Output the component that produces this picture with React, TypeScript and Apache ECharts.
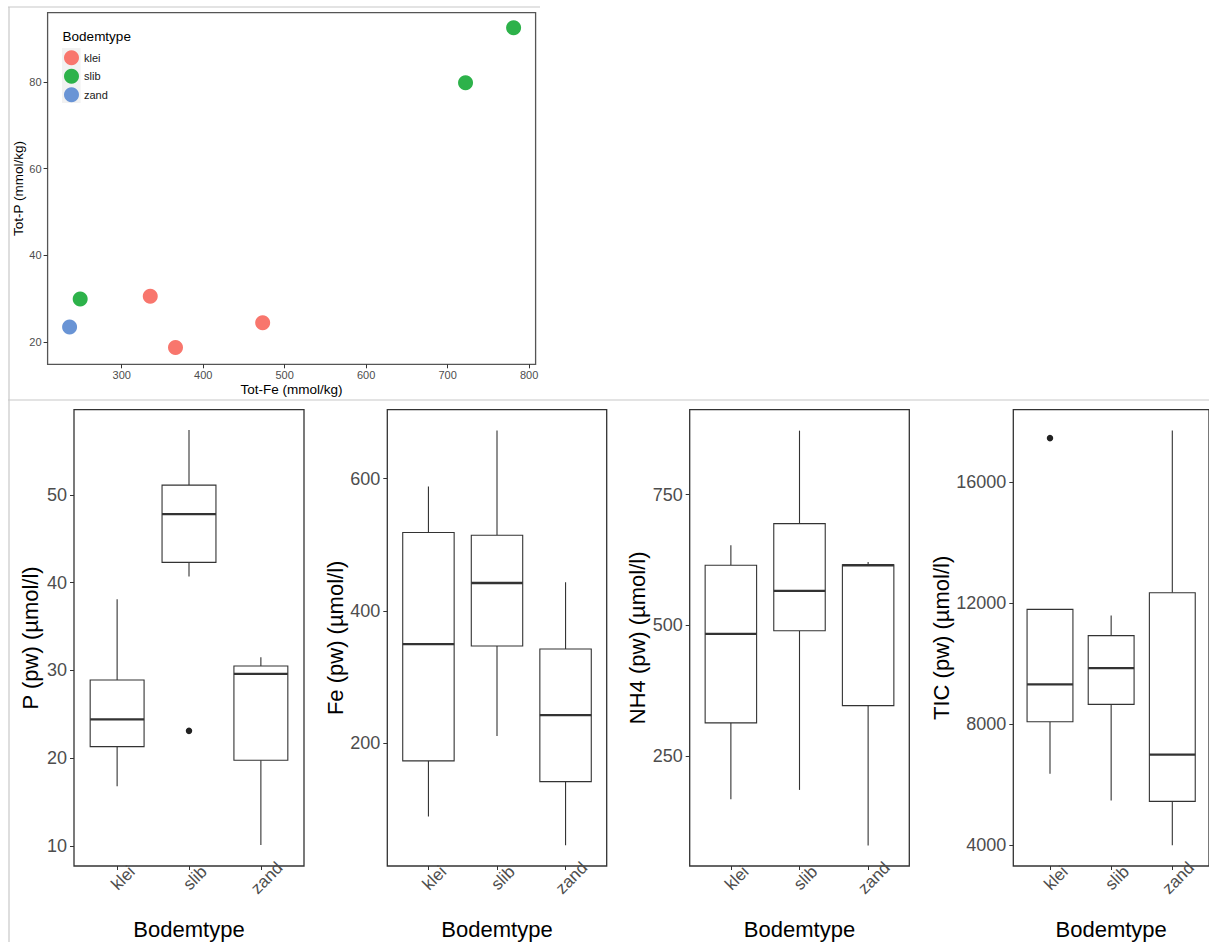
import React, { useEffect, useRef } from "react";
import * as echarts from "echarts";

// ---------- data ----------
const categories = ["klei", "slib", "zand"];
const categoryPositions = [1, 2, 3];

// scatter: [Tot-Fe, Tot-P]
const scatterKlei = [[335, 30.5], [366, 18.7], [473, 24.4]];
const scatterSlib = [[249, 29.9], [722, 79.8], [781, 92.5]];
const scatterZand = [[236, 23.4]];
const scatterXTicks = [300, 400, 500, 600, 700, 800];
const scatterYTicks = [20, 40, 60, 80];

// boxplot stats per category: [lower whisker, Q1, median, Q3, upper whisker]
const pStats = [
  [16.8, 21.3, 24.4, 28.9, 38.1],
  [40.7, 42.3, 47.8, 51.1, 57.4],
  [10.1, 19.75, 29.6, 30.5, 31.5],
];
const pOutliers = [[2, 23.1]];
const pTicks = [10, 20, 30, 40, 50];

const feStats = [
  [89.7, 173.7, 350, 518.5, 588],
  [211.3, 347.2, 442.3, 514.4, 672.7],
  [46.2, 142.3, 242.6, 342.5, 443.3],
];
const feOutliers: number[][] = [];
const feTicks = [200, 400, 600];

const nh4Stats = [
  [168, 314, 484, 615, 653],
  [186, 490, 566, 694.5, 872],
  [80, 347, 615, 616, 621],
];
const nh4Outliers: number[][] = [];
const nh4Ticks = [250, 500, 750];

const ticStats = [
  [6357, 8073, 9308, 11789, 11789],
  [5465, 8646, 9846, 10921, 11583],
  [3989, 5440, 6985, 12338, 17705],
];
const ticOutliers = [[1, 17452]];
const ticTicks = [4000, 8000, 12000, 16000];

// ---------- styling ----------
const FONT = "'Liberation Sans', Arial, sans-serif";
const TICK_GREY = "#4d4d4d";
const LINE = "#333333";
const COLORS = { klei: "#F8766D", slib: "#2db24a", zand: "#6994d5" };

function boxRender(params: any, api: any) {
  const x = api.value(0);
  const low = api.coord([x, api.value(1)]);
  const q1 = api.coord([x, api.value(2)]);
  const med = api.coord([x, api.value(3)]);
  const q3 = api.coord([x, api.value(4)]);
  const high = api.coord([x, api.value(5)]);
  const half = api.size([0.75, 0])[0] / 2;
  const lineStyle = { stroke: LINE, lineWidth: 1.1 };
  return {
    type: "group",
    children: [
      { type: "line", shape: { x1: q3[0], y1: q3[1], x2: high[0], y2: high[1] }, style: lineStyle },
      { type: "line", shape: { x1: q1[0], y1: q1[1], x2: low[0], y2: low[1] }, style: lineStyle },
      {
        type: "rect",
        shape: { x: q3[0] - half, y: q3[1], width: half * 2, height: q1[1] - q3[1] },
        style: { fill: "#ffffff", stroke: LINE, lineWidth: 1.1 },
      },
      {
        type: "line",
        shape: { x1: med[0] - half, y1: med[1], x2: med[0] + half, y2: med[1] },
        style: { stroke: LINE, lineWidth: 2.3 },
      },
    ],
  };
}

export default function App() {
  const ref = useRef<HTMLDivElement>(null);

  useEffect(() => {
    if (!ref.current) return;
    const chart = echarts.init(ref.current, undefined, { renderer: "svg" });

    const boxTop = 409.7;
    const boxHeight = 456.3;
    const panels = [
      { left: 74, width: 230, stats: pStats, out: pOutliers, ticks: pTicks, min: 7.7, max: 59.7, name: "P (pw) (µmol/l)" },
      { left: 387.3, width: 219.4, stats: feStats, out: feOutliers, ticks: feTicks, min: 14.9, max: 704, name: "Fe (pw) (µmol/l)" },
      { left: 689.7, width: 219.6, stats: nh4Stats, out: nh4Outliers, ticks: nh4Ticks, min: 40.7, max: 912, name: "NH4 (pw) (µmol/l)" },
      { left: 1013.3, width: 198, stats: ticStats, out: ticOutliers, ticks: ticTicks, min: 3303, max: 18391, name: "TIC (pw) (µmol/l)" },
    ];

    const grids: any[] = [
      { left: 47.6, top: 12.7, width: 488, height: 351.6, show: true, borderColor: "#555", borderWidth: 1.3, backgroundColor: "transparent" },
    ];
    const xAxes: any[] = [
      {
        gridIndex: 0,
        type: "value",
        min: 209,
        max: 808,
        splitLine: { show: false },
        axisLine: { show: false },
        axisTick: { show: true, length: 4, lineStyle: { color: LINE }, customValues: scatterXTicks },
        axisLabel: { customValues: scatterXTicks, formatter: (v: number) => String(v), fontSize: 11, color: TICK_GREY, fontFamily: FONT, margin: 5 },
        name: "Tot-Fe (mmol/kg)",
        nameLocation: "middle",
        nameGap: 18,
        nameTextStyle: { fontSize: 13.5, color: "#000", fontFamily: FONT },
      },
    ];
    const yAxes: any[] = [
      {
        gridIndex: 0,
        type: "value",
        min: 14.8,
        max: 96,
        splitLine: { show: false },
        axisLine: { show: false },
        axisTick: { show: true, length: 4, lineStyle: { color: LINE }, customValues: scatterYTicks },
        axisLabel: { customValues: scatterYTicks, formatter: (v: number) => String(v), fontSize: 11, color: TICK_GREY, fontFamily: FONT, margin: 6 },
        name: "Tot-P (mmol/kg)",
        nameLocation: "middle",
        nameGap: 20,
        nameTextStyle: { fontSize: 13.5, color: "#000", fontFamily: FONT },
      },
    ];
    const series: any[] = [
      { name: "klei", type: "scatter", xAxisIndex: 0, yAxisIndex: 0, data: scatterKlei, symbolSize: 15, itemStyle: { color: COLORS.klei, opacity: 1 } },
      { name: "slib", type: "scatter", xAxisIndex: 0, yAxisIndex: 0, data: scatterSlib, symbolSize: 15, itemStyle: { color: COLORS.slib, opacity: 1 } },
      { name: "zand", type: "scatter", xAxisIndex: 0, yAxisIndex: 0, data: scatterZand, symbolSize: 15, itemStyle: { color: COLORS.zand, opacity: 1 } },
    ];

    panels.forEach((p, i) => {
      const gi = i + 1;
      grids.push({ left: p.left, top: boxTop, width: p.width, height: boxHeight, show: true, borderColor: LINE, borderWidth: 1.3, backgroundColor: "transparent" });
      xAxes.push({
        gridIndex: gi,
        type: "value",
        min: 0.4,
        max: 3.6,
        splitLine: { show: false },
        axisLine: { show: false },
        axisTick: { show: true, length: 4, lineStyle: { color: LINE }, customValues: categoryPositions },
        axisLabel: {
          customValues: categoryPositions,
          formatter: (v: number) => categories[Math.round(v) - 1] ?? "",
          rotate: 45,
          align: "center",
          verticalAlign: "top",
          margin: 6,
          fontSize: 17,
          color: TICK_GREY,
          fontFamily: FONT,
        },
        name: "Bodemtype",
        nameLocation: "middle",
        nameGap: 52,
        nameTextStyle: { fontSize: 22, color: "#000", fontFamily: FONT },
      });
      yAxes.push({
        gridIndex: gi,
        type: "value",
        min: p.min,
        max: p.max,
        splitLine: { show: false },
        axisLine: { show: false },
        axisTick: { show: true, length: 4, lineStyle: { color: LINE }, customValues: p.ticks },
        axisLabel: { customValues: p.ticks, formatter: (v: number) => String(v), fontSize: 18, color: TICK_GREY, fontFamily: FONT, margin: 7 },
        name: p.name,
        nameLocation: "middle",
        nameGap: 33,
        nameTextStyle: { fontSize: 22, color: "#000", fontFamily: FONT },
      });
      series.push({
        name: p.name + " box",
        type: "custom",
        xAxisIndex: gi,
        yAxisIndex: gi,
        renderItem: boxRender,
        encode: { x: 0, y: [1, 2, 3, 4, 5] },
        data: p.stats.map((s, ci) => [categoryPositions[ci], ...s]),
        z: 2,
      });
      if (p.out.length) {
        series.push({
          name: p.name + " outliers",
          type: "scatter",
          xAxisIndex: gi,
          yAxisIndex: gi,
          data: p.out,
          symbolSize: 6.5,
          itemStyle: { color: "#222", opacity: 1 },
          z: 3,
        });
      }
    });

    chart.setOption({
      animation: false,
      backgroundColor: "#ffffff",
      grid: grids,
      xAxis: xAxes,
      yAxis: yAxes,
      series,
      legend: {
        data: ["klei", "slib", "zand"],
        orient: "vertical",
        left: 64,
        top: 50.2,
        padding: 0,
        itemWidth: 15,
        itemHeight: 15,
        itemGap: 3.5,
        icon: "circle",
        textStyle: { fontSize: 11, color: "#1a1a1a", fontFamily: FONT },
        selectedMode: false,
      },
      graphic: [
        { type: "rect", shape: { x: 62, y: 48, width: 18.6, height: 55 }, style: { fill: "#f2f2f2" }, z: -1 },
        { type: "text", x: 62.6, y: 36, style: { text: "Bodemtype", fontSize: 13.5, fill: "#000", fontFamily: FONT, verticalAlign: "middle" } },
        { type: "line", shape: { x1: 8, y1: 7, x2: 540, y2: 7 }, style: { stroke: "#c8c8c8", lineWidth: 1.2 } },
        { type: "line", shape: { x1: 9, y1: 7, x2: 9, y2: 942 }, style: { stroke: "#c8c8c8", lineWidth: 1.2 } },
        { type: "line", shape: { x1: 8, y1: 400, x2: 1209, y2: 400 }, style: { stroke: "#c8c8c8", lineWidth: 1.2 } },
      ],
    });

    return () => chart.dispose();
  }, []);

  return <div ref={ref} style={{ position: "fixed", left: 0, top: 0, width: 1209, height: 942 }} />;
}
